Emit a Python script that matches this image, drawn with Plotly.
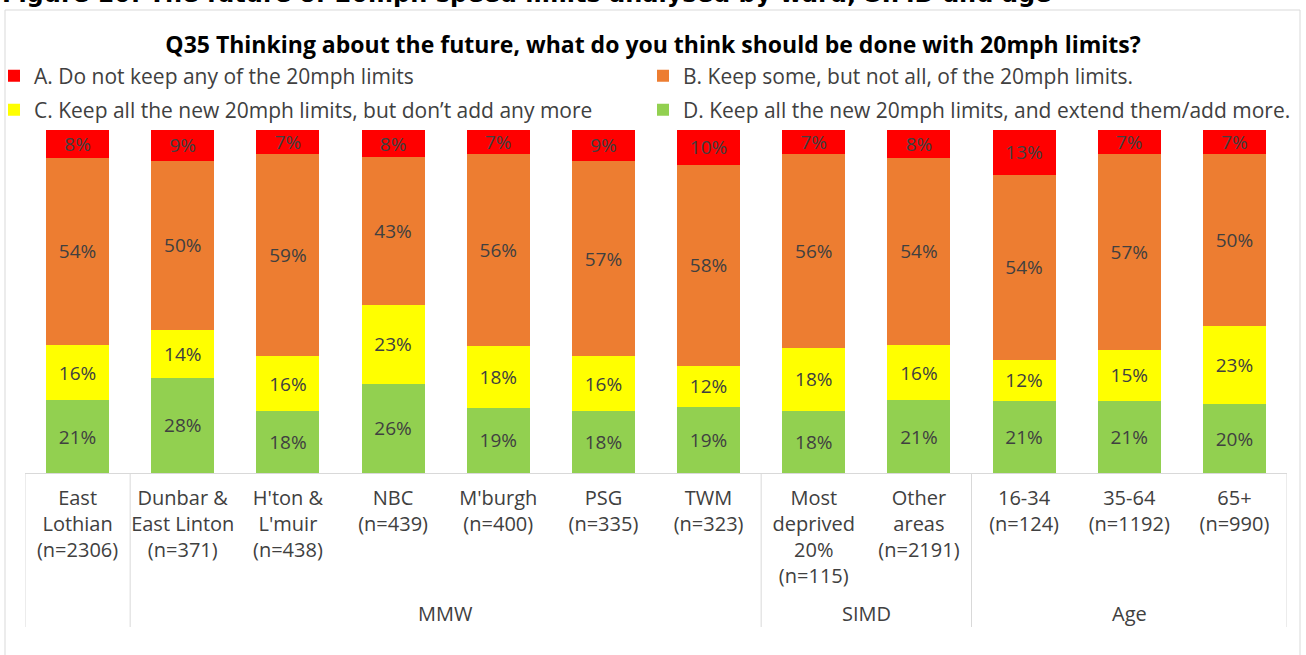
import plotly.graph_objects as go

categories = [
    "East<br>Lothian<br>(n=2306)",
    "Dunbar &<br>East Linton<br>(n=371)",
    "H'ton &<br>L'muir<br>(n=438)",
    "NBC<br>(n=439)",
    "M'burgh<br>(n=400)",
    "PSG<br>(n=335)",
    "TWM<br>(n=323)",
    "Most<br>deprived<br>20%<br>(n=115)",
    "Other<br>areas<br>(n=2191)",
    "16-34<br>(n=124)",
    "35-64<br>(n=1192)",
    "65+<br>(n=990)",
]
groups = ["MMW", "SIMD", "Age"]
group_centers = [3.5, 7.5, 10]
dividers = [-0.5, 0.5, 6.5, 8.5, 11.5]

series_names = [
    "A. Do not keep any of the 20mph limits",
    "B. Keep some, but not all, of the 20mph limits.",
    "C. Keep all the new 20mph limits, but don\u2019t add any more",
    "D. Keep all the new 20mph limits, and extend them/add more.",
]
A = [8, 9, 7, 8, 7, 9, 10, 7, 8, 13, 7, 7]
B = [54, 50, 59, 43, 56, 57, 58, 56, 54, 54, 57, 50]
C = [16, 14, 16, 23, 18, 16, 12, 18, 16, 12, 15, 23]
D = [21, 28, 18, 26, 19, 18, 19, 18, 21, 21, 21, 20]
colors = ["#FF0000", "#ED7D31", "#FFFF00", "#92D050"]

FONT = "Open Sans"
TXT = "#404040"

W, H = 1306, 655
L, R, T, Bm = 25, 19, 130, 182
pw, ph = W - L - R, H - T - Bm


def px_x(p):
    return (p - L) / pw


def px_y(p):
    return (H - Bm - p) / ph


legend_ids = ["legend", "legend2", "legend3", "legend4"]
legend_pos = [(-6, 76), (643, 76), (-6, 110), (643, 110)]

fig = go.Figure()
# stacking order bottom -> top : D, C, B, A
order = [(3, D), (2, C), (1, B), (0, A)]
for idx, vals in order:
    fig.add_trace(go.Bar(
        x=categories, y=vals, name=series_names[idx],
        marker=dict(color=colors[idx], line=dict(width=0)),
        text=[f"{v}%" for v in vals], texttemplate="%{text}",
        textposition="inside", insidetextanchor="middle", textangle=0,
        textfont=dict(family=FONT, size=19, color=TXT),
        legend=legend_ids[idx],
        hoverinfo="skip",
    ))

legend_layout = {}
for lid, (lx, ly) in zip(legend_ids, legend_pos):
    legend_layout[lid] = dict(
        orientation="h", xanchor="left", yanchor="middle",
        x=px_x(lx), y=px_y(ly),
        font=dict(family=FONT, size=21, color=TXT),
        bgcolor="rgba(0,0,0,0)", itemwidth=30,
    )

fig.update_layout(
    width=W, height=H,
    margin=dict(l=L, r=R, t=T, b=Bm, autoexpand=False),
    barmode="stack", barnorm="percent", bargap=0.4,
    paper_bgcolor="white", plot_bgcolor="white",
    uniformtext=dict(minsize=19, mode="show"),
    title=dict(
        text="<b>Q35 Thinking about the future, what do you think should be done with 20mph limits?</b>",
        x=0.5, xanchor="center", y=1 - 45 / H, yanchor="middle",
        font=dict(family=FONT, size=23, color="#000000"),
    ),
    xaxis=dict(
        type="category", range=[-0.5, 11.5],
        showline=True, linecolor="#D9D9D9", linewidth=1,
        ticks="", showgrid=False, ticklabelstandoff=7,
        tickfont=dict(family=FONT, size=20, color=TXT),
    ),
    yaxis=dict(range=[0, 100], visible=False),
    showlegend=True,
    **legend_layout,
)

# group dividers below the axis
for d in dividers:
    fig.add_shape(type="line", xref="x", yref="paper",
                  x0=d, x1=d, y0=0, y1=px_y(627),
                  line=dict(color="#D9D9D9", width=1))

# group labels
for g, c in zip(groups, group_centers):
    fig.add_annotation(text=g, xref="x", yref="paper", x=c, y=px_y(613),
                       showarrow=False, xanchor="center", yanchor="middle",
                       font=dict(family=FONT, size=20, color=TXT))

# outer chart border
fig.add_shape(type="rect", xref="paper", yref="paper",
              x0=px_x(5), x1=px_x(1300), y0=px_y(662), y1=px_y(10),
              line=dict(color="#D9D9D9", width=1), fillcolor="rgba(0,0,0,0)",
              layer="below")

# figure caption (clipped at the top of the image)
fig.add_annotation(
    text="<b>Figure 10: The future of 20mph speed limits analysed by ward, SIMD and age</b>",
    xref="paper", yref="paper", x=px_x(0), y=px_y(10),
    xanchor="left", yanchor="bottom", showarrow=False,
    font=dict(family="DejaVu Sans", size=24, color="#000000"),
)

fig.write_html("out.html", post_script="document.body.style.margin='0';",
               config={"displayModeBar": False})
